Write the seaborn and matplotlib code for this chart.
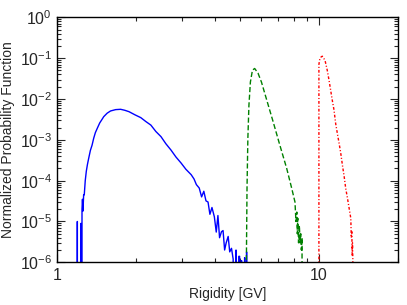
import numpy as np
import pandas as pd
import matplotlib
matplotlib.use("Agg")
import matplotlib.pyplot as plt
import matplotlib.ticker as mticker
import seaborn as sns

# values (zeros = empty bins)
blue_x = [1.180, 1.188, 1.192, 1.196, 1.226, 1.231, 1.236, 1.242, 1.247, 1.253,
          1.260, 1.267, 1.278, 1.290, 1.303, 1.317, 1.337, 1.357, 1.377, 1.397,
          1.425, 1.452, 1.478, 1.504, 1.550, 1.597, 1.670, 1.745, 1.810, 1.878,
          1.980, 2.084, 2.180, 2.277, 2.380, 2.489, 2.600, 2.720, 2.840, 2.972,
          3.100, 3.248, 3.330, 3.400, 3.486, 3.560, 3.630, 3.700, 3.767, 3.830,
          3.900, 3.983, 4.050, 4.110, 4.170, 4.240, 4.300, 4.360, 4.420, 4.498,
          4.560, 4.632, 4.700, 4.760, 4.820, 4.880, 4.940, 4.975, 5.010, 5.060,
          5.100, 5.150, 5.200, 5.250, 5.290, 5.310]
blue_y = [0, 0, 1.0e-5, 0, 0, 9.0e-6, 0, 2.0e-5, 3.5e-5, 1.8e-5,
          4.5e-5, 4.5e-5, 1.0e-4, 1.7e-4, 2.5e-4, 3.5e-4, 5.5e-4, 7.4e-4, 1.1e-3, 1.5e-3,
          2.0e-3, 2.6e-3, 3.1e-3, 3.7e-3, 4.5e-3, 5.1e-3, 5.5e-3, 5.6e-3, 5.3e-3, 4.9e-3,
          4.1e-3, 3.5e-3, 2.8e-3, 2.3e-3, 1.6e-3, 1.2e-3, 8.0e-4, 5.6e-4, 3.8e-4, 2.7e-4,
          1.9e-4, 1.4e-4, 1.1e-4, 8.0e-5, 6.6e-5, 4.0e-5, 5.5e-5, 3.2e-5, 3.0e-5, 1.5e-5,
          2.2e-5, 1.3e-5, 5.5e-6, 1.4e-5, 4.0e-6, 5.6e-6, 6.0e-6, 2.0e-6, 3.0e-6, 4.3e-6,
          1.8e-6, 2.2e-6, 1.2e-6, 0, 2.0e-6, 0, 1.4e-6, 1.4e-6, 0, 1.1e-6,
          0, 0, 1.3e-6, 0, 1.8e-6, 0]

green_x = [5.27, 5.28, 5.31, 5.35, 5.40, 5.47, 5.57, 5.68, 5.85, 6.03,
           6.30, 6.68, 7.09, 7.53, 7.87, 8.10, 8.17, 8.23, 8.27, 8.30,
           8.36, 8.42, 8.47, 8.52, 8.57, 8.62, 8.63]
green_y = [0, 1.0e-6, 6.5e-5, 1.1e-3, 7.0e-3, 2.6e-2, 5.1e-2, 5.6e-2, 4.3e-2, 2.6e-2,
           1.0e-2, 2.8e-3, 7.4e-4, 2.0e-4, 6.5e-5, 3.0e-5, 1.0e-5, 1.7e-5, 5.0e-6, 1.2e-5,
           3.0e-6, 8.0e-6, 3.0e-6, 5.0e-6, 2.0e-6, 4.0e-6, 0]

red_x = [9.98, 10.00, 10.03, 10.08, 10.16, 10.30, 10.55, 10.76, 10.93, 11.08,
         11.25, 11.42, 11.59, 11.77, 11.95, 12.12, 12.30, 12.49, 12.66, 12.86,
         13.05, 13.24, 13.30, 13.36, 13.40, 13.44, 13.48, 13.52]
red_y = [0, 7.0e-2, 8.0e-2, 9.5e-2, 1.05e-1, 1.12e-1, 8.9e-2, 5.1e-2, 2.9e-2, 1.7e-2,
         9.3e-3, 5.4e-3, 2.5e-3, 1.4e-3, 8.1e-4, 4.7e-4, 2.4e-4, 1.26e-4, 6.5e-5, 3.7e-5,
         2.1e-5, 1.2e-5, 4.0e-6, 6.0e-6, 1.5e-6, 3.0e-6, 1.2e-6, 0]

y_ticks = [1e-6, 1e-5, 1e-4, 1e-3, 1e-2, 1e-1, 1e0]
x_ticks = [1, 10]

df = pd.concat([
    pd.DataFrame({'R': blue_x, 'pdf': blue_y, 's': 'a'}),
    pd.DataFrame({'R': green_x, 'pdf': green_y, 's': 'b'}),
    pd.DataFrame({'R': red_x, 'pdf': red_y, 's': 'c'}),
], ignore_index=True)

sns.set_style("ticks")
plt.rcParams['font.family'] = ['Liberation Sans', 'DejaVu Sans']
plt.rcParams['mathtext.default'] = 'regular'
plt.rcParams['xtick.direction'] = 'in'
plt.rcParams['ytick.direction'] = 'in'

fig = plt.figure(figsize=(4.07, 3.05), dpi=100)
ax = fig.add_axes([0.141, 0.140, 0.836, 0.803])

styles = {'a': ('#0000ff', '-'),
          'b': ('#008000', (0, (3.7, 1.8))),
          'c': ('#ff0000', (0, (2.0, 1.4, 0.8, 1.4)))}
for key, (col, ls) in styles.items():
    sub = df[df['s'] == key]
    sns.lineplot(data=sub, x='R', y='pdf', color=col, linestyle=ls, lw=1.0,
                 estimator=None, sort=False, ax=ax)

ax.set_xscale('log', nonpositive='clip')
ax.set_yscale('log', nonpositive='clip')
ax.set_xlim(1, 20)
ax.set_ylim(1e-6, 1)
ax.xaxis.set_major_locator(mticker.FixedLocator(x_ticks))
ax.xaxis.set_major_formatter(mticker.FuncFormatter(lambda v, _: f'{v:g}'))
ax.xaxis.set_minor_locator(mticker.FixedLocator([2, 3, 4, 5, 6, 7, 8, 9, 20]))
ax.xaxis.set_minor_formatter(mticker.NullFormatter())
ax.yaxis.set_major_locator(mticker.FixedLocator(y_ticks))
ax.yaxis.set_major_formatter(mticker.LogFormatterMathtext())
ax.yaxis.set_minor_locator(mticker.FixedLocator(
    [m * d for d in y_ticks[:-1] for m in range(2, 10)]))
ax.yaxis.set_minor_formatter(mticker.NullFormatter())
ax.set_xlabel('Rigidity [GV]', fontsize=10, labelpad=3)
ax.set_ylabel('Normalized Probability Function', fontsize=10, labelpad=3)
ax.tick_params(which='both', top=True, right=True, labelsize=11.5, width=0.8)
ax.tick_params(which='major', length=6, pad=4)
ax.tick_params(which='minor', length=3)
for sp in ax.spines.values():
    sp.set_linewidth(1.0)
    sp.set_color('black')

fig.savefig("out.png", dpi=100)
